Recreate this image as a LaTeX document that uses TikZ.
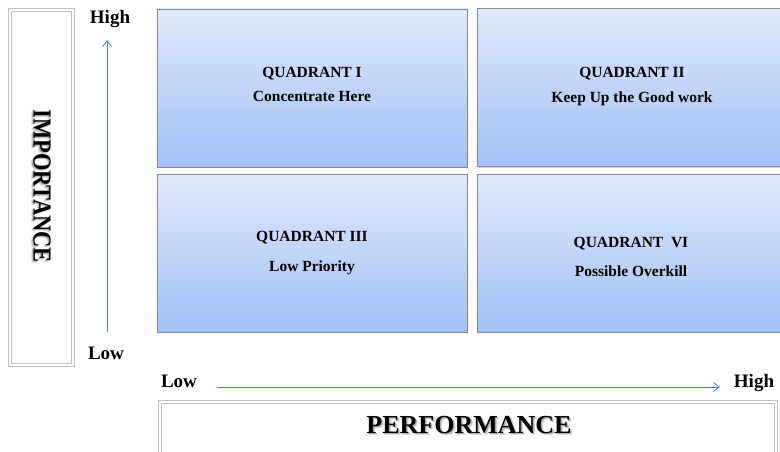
\documentclass[tikz,border=0pt]{standalone}
\usepackage{fontspec}
\setmainfont{Liberation Serif}
\usetikzlibrary{arrows.meta,shadows}
\definecolor{axisblue}{RGB}{74,126,187}
\definecolor{quadtop}{RGB}{223,233,251}
\definecolor{quadbot}{RGB}{161,193,246}
\definecolor{quadframe}{RGB}{135,135,135}
\definecolor{panelframe}{RGB}{192,192,192}
% title text with a soft grey shadow set behind it in the same box
\newcommand\softshadowed[1]{\leavevmode
  \rlap{\hspace{2.2pt}\raisebox{-2.4pt}{\textcolor{black!14}{#1}}}%
  \rlap{\hspace{1.2pt}\raisebox{-1.4pt}{\textcolor{black!32}{#1}}}%
  #1}
\begin{document}
\begin{tikzpicture}[x=1pt,y=-1pt,
  quad/.style={draw=quadframe, line width=0.8pt, top color=quadtop, bottom color=quadbot,
    minimum width=310pt, minimum height=158pt, inner sep=0pt,
    drop shadow={shadow xshift=0.5pt, shadow yshift=-1.2pt, opacity=0.35}},
  panel/.style={draw=panelframe, fill=white, double=white, double distance=2.6pt, line width=0.8pt,
    inner sep=0pt, drop shadow={shadow xshift=1pt, shadow yshift=-1.6pt, opacity=0.3}},
  qtext/.style={font=\fontsize{15.5}{18}\selectfont\bfseries, inner sep=0pt,
    text height=0.7em, text depth=0.2em},
  endlabel/.style={font=\fontsize{19}{22}\selectfont\bfseries, inner sep=0pt,
    text height=0.7em, text depth=0.2em},
  bigtitle/.style={font=\fontsize{26}{30}\selectfont\bfseries, inner sep=0pt},
  axis/.style={draw=axisblue, line width=0.8pt, -{Straight Barb[length=6pt,width=9pt]}}
]
\useasboundingbox (0,0) rectangle (780,452);
\clip (0,0) rectangle (780,452);

% side panel for the vertical axis title
\node[panel, minimum width=63pt, minimum height=355pt] (imppanel) at (41.5,187.5) {};
\node[bigtitle, rotate=-90] (imptitle) at (41,186) {\scalebox{0.86}[1]{\softshadowed{IMPORTANCE}}};

% bottom panel for the horizontal axis title
\node[panel, minimum width=616pt, minimum height=100pt] (perfpanel) at (468,452) {};
\node[bigtitle] (perftitle) at (469,426) {\softshadowed{PERFORMANCE}};

% the four quadrants
\node[quad] (q1) at (312,88) {};
\node[quad] (q2) at (632,87.5) {};
\node[quad] (q3) at (312,253) {};
\node[quad] (q4) at (632,253) {};

\node[qtext] (q1a) at (312,75) {QUADRANT I};
\node[qtext] (q1b) at (312,99) {Concentrate Here};
\node[qtext] (q2a) at (632,75) {QUADRANT II};
\node[qtext] (q2b) at (632,100) {Keep Up the Good work};
\node[qtext] (q3a) at (312,239) {QUADRANT III};
\node[qtext] (q3b) at (312,269) {Low Priority};
\node[qtext] (q4a) at (631,245) {QUADRANT\ \ VI};
\node[qtext] (q4b) at (631,274) {Possible Overkill};

% vertical axis
\node[endlabel] (vhigh) at (110,21) {High};
\node[endlabel] (vlow) at (106,357) {Low};
\coordinate (vbot) at (107,332);
\coordinate (vtop) at (107,40);
\draw[axis] (vbot) -- (vtop);

% horizontal axis
\node[endlabel] (hlow) at (179,385) {Low};
\node[endlabel] (hhigh) at (754,385) {High};
\coordinate (hleft) at (217,387);
\coordinate (hright) at (720,387);
\draw[axis] (hleft) -- (hright);
\end{tikzpicture}
\end{document}
